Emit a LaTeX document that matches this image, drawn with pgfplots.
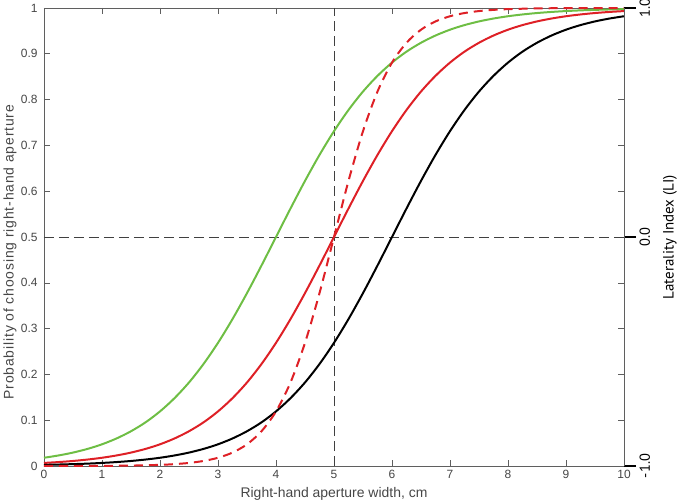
\documentclass[border=0pt]{standalone}
\usepackage{pgfplots}
\pgfplotsset{compat=1.18}
\usepackage{fontspec}
\setmainfont{Liberation Sans}
\newfontfamily\ylabfont[LetterSpace=6]{Liberation Sans}
\newfontfamily\rfont{PT Sans}
\definecolor{cgreen}{RGB}{110,190,68}
\definecolor{cred}{RGB}{222,32,38}
\definecolor{cgray}{RGB}{95,95,95}
\definecolor{ctext}{RGB}{70,70,70}
\begin{document}
\begin{tikzpicture}[x=1bp,y=1bp]
\useasboundingbox (-44bp,-38bp) rectangle (636bp,466bp);
\begin{axis}[
  at={(0,0)}, anchor=south west,
  scale only axis, width=580bp, height=458bp,
  xmin=0, xmax=10, ymin=0, ymax=1,
  xtick={0,1,...,10},
  ytick={0,0.1,0.2,0.3,0.4,0.5,0.6,0.7,0.8,0.9,1},
  yticklabels={0,0.1,0.2,0.3,0.4,0.5,0.6,0.7,0.8,0.9,1},
  xticklabels={0,1,2,3,4,5,6,7,8,9,10},
  tick align=inside,
  major tick length=6bp,
  axis line style={cgray, line width=0.8pt},
  tick style={cgray, line width=0.6pt},
  ticklabel style={font=\fontsize{12}{14}\selectfont, text=ctext},
  yticklabel style={xshift=-3bp},
  xticklabel style={yshift=-1bp},
  xlabel={Right-hand aperture width, cm},
  ylabel={Probability of choosing right-hand aperture},
  every axis x label/.style={at={(axis description cs:0.5,-0.0611)}, anchor=center, font=\fontsize{14}{16}\selectfont, text=ctext},
  every axis y label/.style={at={(axis description cs:-0.0586,0.467)}, anchor=center, rotate=90, font=\ylabfont\fontsize{14}{16}\selectfont, text=ctext},
  clip=false,
]
\addplot[black!75, dash pattern=on 10bp off 5bp, line width=0.7pt] coordinates {(5,0) (5,1)};
\addplot[black!75, dash pattern=on 10bp off 5bp, line width=0.7pt] coordinates {(0,0.5) (10,0.5)};
% green
\addplot[cgreen, line width=2pt, smooth] coordinates {
(0,0.0180)(0.25,0.0230)(0.5,0.0293)(0.75,0.0373)(1,0.0474)(1.25,0.0601)(1.5,0.0759)(1.75,0.0953)
(2,0.1192)(2.25,0.1481)(2.5,0.1824)(2.75,0.2227)(3,0.2689)(3.25,0.3208)(3.5,0.3775)(3.75,0.4378)
(4,0.5)(4.25,0.5622)(4.5,0.6225)(4.75,0.6792)(5,0.7311)(5.25,0.7773)(5.5,0.8176)(5.75,0.8519)
(6,0.8808)(6.25,0.9047)(6.5,0.9241)(6.75,0.9399)(7,0.9526)(7.25,0.9627)(7.5,0.9707)(7.75,0.9770)
(8,0.9820)(8.25,0.9859)(8.5,0.9890)(8.75,0.9914)(9,0.9933)(9.25,0.9948)(9.5,0.9959)(9.75,0.9968)(10,0.9975)};
% red solid
\addplot[cred, line width=2pt, smooth] coordinates {
(0,0.0067)(0.25,0.0086)(0.5,0.0110)(0.75,0.0141)(1,0.0180)(1.25,0.0230)(1.5,0.0293)(1.75,0.0373)
(2,0.0474)(2.25,0.0601)(2.5,0.0759)(2.75,0.0953)(3,0.1192)(3.25,0.1481)(3.5,0.1824)(3.75,0.2227)
(4,0.2689)(4.25,0.3208)(4.5,0.3775)(4.75,0.4378)(5,0.5)(5.25,0.5622)(5.5,0.6225)(5.75,0.6792)
(6,0.7311)(6.25,0.7773)(6.5,0.8176)(6.75,0.8519)(7,0.8808)(7.25,0.9047)(7.5,0.9241)(7.75,0.9399)
(8,0.9526)(8.25,0.9627)(8.5,0.9707)(8.75,0.9770)(9,0.9820)(9.25,0.9859)(9.5,0.9890)(9.75,0.9914)(10,0.9933)};
% black
\addplot[black, line width=2pt, smooth] coordinates {
(0,0.0025)(0.25,0.0032)(0.5,0.0041)(0.75,0.0052)(1,0.0067)(1.25,0.0086)(1.5,0.0110)(1.75,0.0141)
(2,0.0180)(2.25,0.0230)(2.5,0.0293)(2.75,0.0373)(3,0.0474)(3.25,0.0601)(3.5,0.0759)(3.75,0.0953)
(4,0.1192)(4.25,0.1481)(4.5,0.1824)(4.75,0.2227)(5,0.2689)(5.25,0.3208)(5.5,0.3775)(5.75,0.4378)
(6,0.5)(6.25,0.5622)(6.5,0.6225)(6.75,0.6792)(7,0.7311)(7.25,0.7773)(7.5,0.8176)(7.75,0.8519)
(8,0.8808)(8.25,0.9047)(8.5,0.9241)(8.75,0.9399)(9,0.9526)(9.25,0.9627)(9.5,0.9707)(9.75,0.9770)(10,0.9820)};
% red dashed
\addplot[cred, line width=2pt, smooth, dash pattern=on 9bp off 6bp] coordinates {
(0,0.00005)(0.5,0.0001)(1,0.0003)(1.5,0.0009)(2,0.0025)(2.25,0.0041)(2.5,0.0067)(2.75,0.0110)
(3,0.0180)(3.25,0.0293)(3.5,0.0474)(3.75,0.0759)(4,0.1192)(4.25,0.1824)(4.5,0.2689)(4.75,0.3775)
(5,0.5)(5.25,0.6225)(5.5,0.7311)(5.75,0.8176)(6,0.8808)(6.25,0.9241)(6.5,0.9526)(6.75,0.9707)
(7,0.9820)(7.25,0.9890)(7.5,0.9933)(7.75,0.9959)(8,0.9975)(8.5,0.9991)(9,0.9997)(9.5,0.9999)(10,1.0)};
\end{axis}
\begin{axis}[
  at={(0,0)}, anchor=south west,
  scale only axis, width=580bp, height=458bp,
  xmin=0, xmax=10, ymin=-1, ymax=1,
  axis x line=none,
  axis y line*=right,
  axis line style={cgray, line width=0.8pt, -},
  ytick={-1,0,1},
  yticklabels={-1.0,0.0,1.0},
  tick align=outside,
  major tick length=12bp,
  tick style={black, line width=1.2pt},
  yticklabel style={rotate=90, anchor=north, font=\rfont\fontsize{14.5}{16}\selectfont, text=black},
  ylabel={Laterality Index (LI)},
  every axis y label/.style={at={(axis description cs:1.0793,0.5)}, anchor=center, rotate=90, font=\rfont\fontsize{15}{17}\selectfont, text=black},
]
\addplot[draw=none] coordinates {(0,0)};
\end{axis}
\end{tikzpicture}
\end{document}
